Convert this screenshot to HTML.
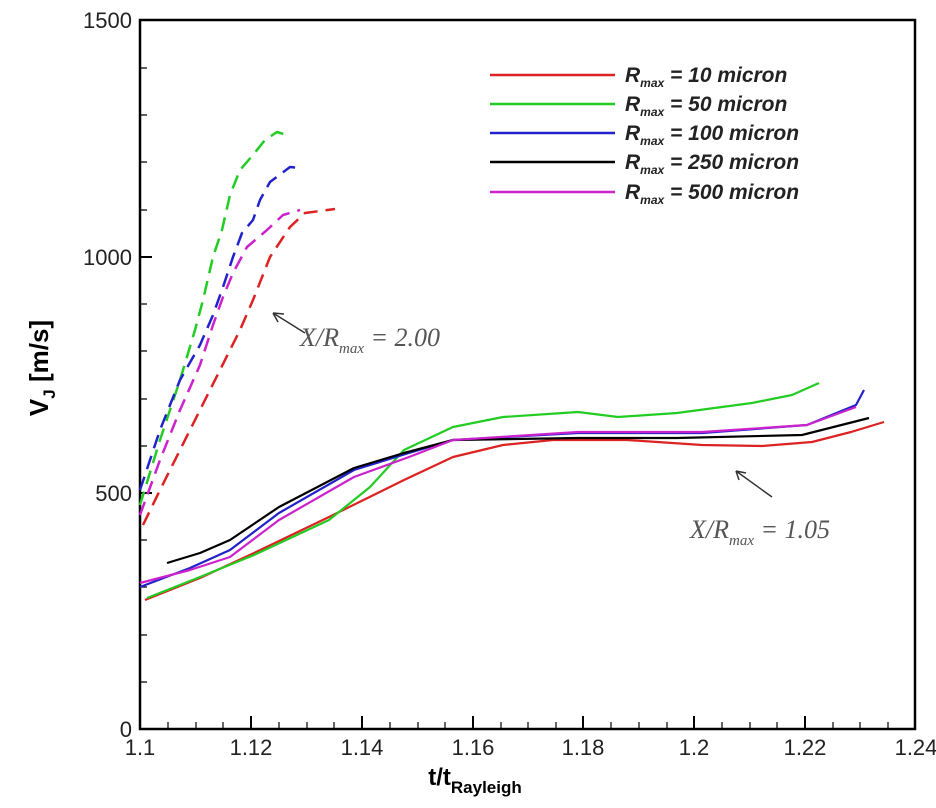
<!DOCTYPE html>
<html><head><meta charset="utf-8"><style>
html,body{margin:0;padding:0;background:#fff;}
svg{display:block;}
text{font-family:"Liberation Sans",sans-serif;}
</style></head><body>
<svg width="936" height="808" viewBox="0 0 936 808" xmlns="http://www.w3.org/2000/svg">
<rect x="140" y="20" width="775" height="709" fill="none" stroke="#000" stroke-width="2.5"/>
<g stroke="#000" stroke-width="2">
<line x1="140" y1="257" x2="152" y2="257"/><line x1="140" y1="493" x2="152" y2="493"/>
<line x1="251" y1="729" x2="251" y2="716"/><line x1="362" y1="729" x2="362" y2="716"/><line x1="473" y1="729" x2="473" y2="716"/><line x1="583" y1="729" x2="583" y2="716"/><line x1="694" y1="729" x2="694" y2="716"/><line x1="805" y1="729" x2="805" y2="716"/>
</g>
<g stroke="#000" stroke-width="1.2">
<path d="M140 68h7M140 115h7M140 162h7M140 210h7M140 304h7M140 351h7M140 399h7M140 446h7M140 540h7M140 587h7M140 635h7M140 682h7"/>
<path d="M168 729v-7M196 729v-7M223 729v-7M279 729v-7M307 729v-7M334 729v-7M390 729v-7M418 729v-7M445 729v-7M501 729v-7M528 729v-7M556 729v-7M611 729v-7M639 729v-7M667 729v-7M722 729v-7M750 729v-7M777 729v-7M833 729v-7M860 729v-7M888 729v-7"/>
</g>
<g font-size="22" fill="#222" text-anchor="end">
<text x="132" y="28">1500</text><text x="132" y="265">1000</text><text x="132" y="501">500</text><text x="132" y="737">0</text>
</g>
<g font-size="22" fill="#222" text-anchor="middle">
<text x="140" y="755">1.1</text><text x="251" y="755">1.12</text><text x="362" y="755">1.14</text><text x="473" y="755">1.16</text><text x="583" y="755">1.18</text><text x="694" y="755">1.2</text><text x="805" y="755">1.22</text><text x="916" y="755">1.24</text>
</g>
<text x="475" y="785" font-size="24" font-weight="bold" text-anchor="middle">t/t<tspan font-size="17" dy="8">Rayleigh</tspan></text>
<text transform="translate(48,368) rotate(-90)" font-size="26" font-weight="bold" text-anchor="middle">V<tspan font-size="17" dy="7">J</tspan><tspan dy="-7"> [m/s]</tspan></text>
<g fill="none" stroke-width="2.5" stroke-dasharray="14,8" stroke-linejoin="round">
<path stroke="#d22" d="M143 525L160 490L180 450L200 410L220 370L240 330L253 300L270 257L290 227L305 213L335 209"/>
<path stroke="#2c2" d="M140 505L160 440L180 380L195 330L203 300L213 257L222 230L230 195L240 170L253 155L265 140L277 132L290 136"/>
<path stroke="#22c" d="M140 490L160 430L180 380L200 345L213 315L223 287L233 257L242 233L253 220L260 200L270 182L290 167L300 168"/>
<path stroke="#c2c" d="M140 515L160 460L180 410L200 365L213 325L223 297L233 273L247 247L267 230L283 215L300 210"/>
</g>
<g fill="none" stroke-width="2.2" stroke-linejoin="round">
<path stroke="#d22" d="M145 600L200 578L254 553L329 517L404 480L453 457L503 445L553 440L627 440L702 445L762 446L812 442L851 432L884 422"/>
<path stroke="#2c2" d="M147 598L200 577L254 555L329 520L370 487L404 450L453 427L503 417L578 412L618 417L677 413L752 403L792 395L819 383"/>
<path stroke="#22c" d="M140 587L190 568L230 550L279 513L354 470L409 453L453 440L578 433L702 433L807 425L856 405L864 390"/>
<path stroke="#000" d="M167 563L200 553L230 540L279 507L354 468L404 453L453 440L578 438L677 438L802 435L869 418"/>
<path stroke="#c2c" d="M140 583L190 570L230 557L279 520L354 477L409 457L453 440L578 432L702 432L807 425L856 407"/>
</g>
<g stroke-width="2.5">
<line x1="490" y1="75" x2="615" y2="75" stroke="#d22"/>
<line x1="490" y1="104" x2="615" y2="104" stroke="#2c2"/>
<line x1="490" y1="133" x2="615" y2="133" stroke="#22c"/>
<line x1="490" y1="162" x2="615" y2="162" stroke="#000"/>
<line x1="490" y1="192" x2="615" y2="192" stroke="#c2c"/>
</g>
<g font-size="21" font-weight="bold" font-style="italic" fill="#222">
<text x="625" y="82">R<tspan font-size="12" dy="5">max</tspan><tspan dy="-5"> = 10 micron</tspan></text>
<text x="625" y="111">R<tspan font-size="12" dy="5">max</tspan><tspan dy="-5"> = 50 micron</tspan></text>
<text x="625" y="140">R<tspan font-size="12" dy="5">max</tspan><tspan dy="-5"> = 100 micron</tspan></text>
<text x="625" y="169">R<tspan font-size="12" dy="5">max</tspan><tspan dy="-5"> = 250 micron</tspan></text>
<text x="625" y="199">R<tspan font-size="12" dy="5">max</tspan><tspan dy="-5"> = 500 micron</tspan></text>
</g>
<g font-size="26" font-style="italic" fill="#555">
<text x="300" y="346" style="font-family:'Liberation Serif',serif">X/R<tspan font-size="15" dy="7">max</tspan><tspan dy="-7"> = 2.00</tspan></text>
<text x="690" y="538" style="font-family:'Liberation Serif',serif">X/R<tspan font-size="15" dy="7">max</tspan><tspan dy="-7"> = 1.05</tspan></text>
</g>
<g stroke="#333" stroke-width="1.5" fill="none">
<path d="M305 333L273 313M273 313l11 1M273 313l5 9"/>
<path d="M772 497L736 471M736 471l10 2M736 471l3 9"/>
</g>
</svg>
</body></html>
